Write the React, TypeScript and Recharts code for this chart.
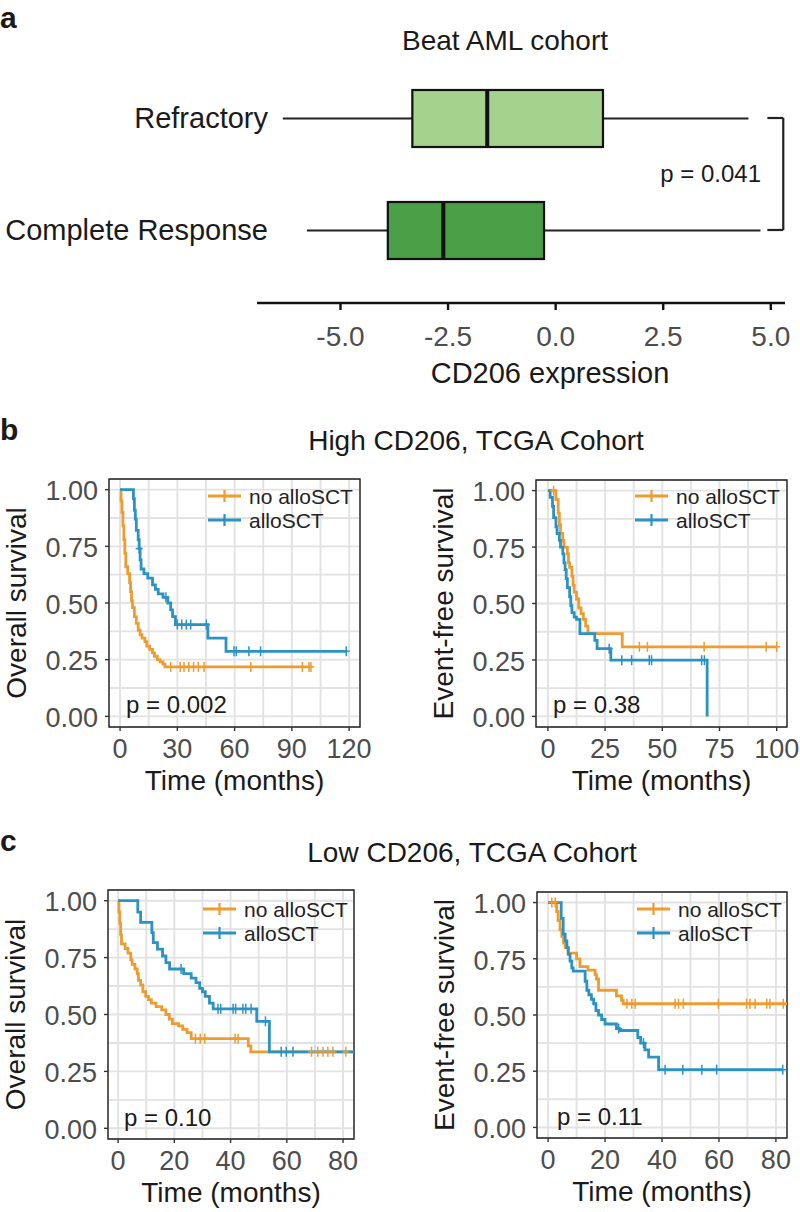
import React from 'react'
import {
    ComposedChart, Bar, Cell, Line, Scatter, XAxis, YAxis,
    CartesianGrid, ReferenceArea, ReferenceLine,
} from 'recharts'

const FONT = '"Liberation Sans", Arial, Helvetica, sans-serif'
const ORANGE = '#EE9B30'
const BLUE = '#2A93C4'
const INK = '#1a1a1a'
const TICK_INK = '#4d4d4d'

// ---- panel a: Beat AML boxplot ----
const groups = ['Refractory', 'Complete Response']
const whiskerLow = [-6.34, -5.78]
const quart1 = [-3.33, -3.90]
const medians = [-1.59, -2.61]
const quart3 = [1.10, -0.27]
const whiskerHigh = [4.48, 4.76]
const exprTicks = [-5, -2.5, 0, 2.5, 5]
const groupFill = ['#A5D38E', '#4A9E46']

// ---- panel b: high CD206 (time in months, survival fraction) ----
const highOsNo: [number, number][] = [
    [0, 1], [0.5, 0.95], [1, 0.9], [1.5, 0.84], [2, 0.78], [2.5, 0.72], [3, 0.66], [4, 0.63],
    [5, 0.59], [5.5, 0.55], [6, 0.51], [6.5, 0.48], [7.5, 0.44], [8.5, 0.41], [9.5, 0.38],
    [10.5, 0.36], [11.5, 0.345], [13, 0.33], [14, 0.31], [15.5, 0.295], [17, 0.28], [18, 0.265],
    [19.5, 0.25], [21, 0.24], [22.5, 0.23], [23.5, 0.218], [100, 0.218],
]
const highOsNoCens = [26.5, 31.5, 33.5, 36, 38.5, 41, 44, 68.5, 95.5, 99, 100]
const highOsSct: [number, number][] = [
    [0, 1], [7, 0.96], [7.5, 0.91], [8, 0.87], [8.5, 0.82], [9.5, 0.78], [10, 0.74], [10.5, 0.69],
    [11, 0.65], [12.5, 0.63], [14.5, 0.61], [17, 0.58], [18.5, 0.56], [20, 0.54], [22.5, 0.525],
    [25, 0.5], [26.5, 0.47], [27.5, 0.44], [29, 0.405], [46, 0.345], [55.5, 0.287], [118.5, 0.287],
]
const highOsSctCens = [10, 24, 30, 32.3, 34.7, 37, 45.2, 59.7, 60.9, 67.5, 73.6, 118.5]

const highEfsNo: [number, number][] = [
    [0, 1], [3.5, 0.96], [4.5, 0.9], [5, 0.85], [5.5, 0.81], [6.5, 0.78], [7, 0.75], [8.5, 0.72],
    [9, 0.68], [9.5, 0.66], [10.5, 0.62], [11, 0.58], [11.5, 0.55], [12.5, 0.52], [13.5, 0.48],
    [14.5, 0.455], [15.5, 0.43], [16.5, 0.4], [17.5, 0.367], [32.5, 0.308], [100, 0.308],
]
const highEfsNoCens = [2.5, 40, 43.5, 68.3, 95.4, 100]
const highEfsSct: [number, number][] = [
    [0, 1], [1, 0.97], [2, 0.93], [2.5, 0.88], [3.5, 0.84], [4, 0.81], [5, 0.78], [5.5, 0.75],
    [6.5, 0.72], [7, 0.68], [7.5, 0.65], [8, 0.61], [8.5, 0.57], [9.5, 0.53], [10, 0.49],
    [10.5, 0.46], [11.5, 0.44], [12.5, 0.43], [14, 0.367], [20.5, 0.337], [21.5, 0.3],
    [27.5, 0.249], [69.6, 0],
]
const highEfsSctCens = [26.8, 32.3, 36.6, 44.3, 45.3, 67.2, 68.4]

// ---- panel c: low CD206 ----
const lowOsNo: [number, number][] = [
    [0, 1], [0.3, 0.95], [0.6, 0.9], [0.9, 0.85], [1.2, 0.81], [2.5, 0.79], [3.5, 0.77],
    [4.5, 0.74], [5, 0.72], [6, 0.7], [6.8, 0.68], [7.2, 0.65], [8, 0.63], [8.8, 0.6],
    [9.8, 0.58], [10.8, 0.565], [11.8, 0.55], [13.5, 0.535], [15.5, 0.52], [17, 0.5],
    [18.2, 0.48], [19.3, 0.46], [21.5, 0.45], [23, 0.435], [24.5, 0.42], [26, 0.394],
    [46.3, 0.362], [47.2, 0.336], [84, 0.336],
]
const lowOsNoCens = [27.5, 29.2, 30.8, 41.6, 42.7, 68.8, 71, 72.9, 74.6, 76.4, 81]
const lowOsSct: [number, number][] = [
    [0, 1], [7, 0.95], [8, 0.905], [12, 0.86], [12.5, 0.816], [14, 0.787], [15.8, 0.757],
    [17, 0.728], [18.3, 0.7], [23.3, 0.68], [26, 0.66], [27.7, 0.64], [29, 0.615], [30, 0.6],
    [31, 0.58], [32.5, 0.55], [33.8, 0.525], [49.3, 0.47], [53.8, 0.336], [84, 0.336],
]
const lowOsSctCens = [22.4, 35.5, 36.5, 40.9, 41.8, 44.4, 45.4, 47.3, 52.4, 58, 59.8, 62.2]

const lowEfsNo: [number, number][] = [
    [0, 1], [3, 0.96], [3.5, 0.92], [4.2, 0.88], [4.8, 0.85], [5.4, 0.82], [6, 0.8], [7, 0.775],
    [10, 0.75], [11.2, 0.715], [14, 0.7], [16.5, 0.68], [17, 0.66], [17.7, 0.61], [24, 0.585],
    [25.8, 0.565], [26.4, 0.55], [84, 0.55],
]
const lowEfsNoCens = [1.3, 2.5, 27.7, 29.4, 30.6, 44.6, 45.8, 47.5, 59.8, 69.7, 70.9, 72.7, 76.8, 77.9, 82.6]
const lowEfsSct: [number, number][] = [
    [0, 1], [4.6, 0.93], [5.3, 0.86], [6, 0.83], [6.6, 0.8], [7.1, 0.77], [7.7, 0.74], [8.3, 0.71],
    [8.8, 0.695], [13, 0.65], [13.6, 0.61], [14.3, 0.59], [15.2, 0.57], [16, 0.55], [16.8, 0.52],
    [17.7, 0.5], [18.8, 0.48], [20, 0.46], [24, 0.44], [25, 0.431], [31.5, 0.4], [32.5, 0.375],
    [34, 0.345], [35.3, 0.313], [38.8, 0.257], [82.4, 0.257],
]
const lowEfsSctCens = [24.8, 33.5, 41.1, 47.3, 54, 59.2, 82.4]

const survTicks = [0, 0.125, 0.25, 0.375, 0.5, 0.625, 0.75, 0.875, 1]
const survMajor = [0, 0.25, 0.5, 0.75, 1]
const Y_DOMAIN: [number, number] = [-0.047, 1.047]

// survival level at a censoring time, read from the step list
const survAt = (steps: [number, number][], t: number) => {
    let s = steps[0][1]
    for (const [tt, ss] of steps) if (tt <= t) s = ss
    return s
}

type Curve = { steps: [number, number][]; cens: number[]; color: string }
type Box = { x: number; y: number; w: number; h: number }

const Plus = ({ cx, cy, color }: any) => (
    <g stroke={color} strokeWidth={1.5}>
        <line x1={cx} x2={cx} y1={cy - 5} y2={cy + 5} />
        <line x1={cx - 3.5} x2={cx + 3.5} y1={cy} y2={cy} />
    </g>
)

function KmPlot({ box, xDomain, xTicks, xMajor, yLabel, curves }:
    { box: Box; xDomain: [number, number]; xTicks: number[]; xMajor: number[]; yLabel: string; curves: Curve[] }) {
    const PL = 110, PT = 10
    const bottom = PT + box.h

    const XTick = (p: any) => {
        const v = p.payload.value
        if (!xMajor.includes(v)) return <g />
        return (
            <g>
                <line x1={p.x} x2={p.x} y1={bottom} y2={bottom + 4} stroke="#333" strokeWidth={1.4} />
                <text x={p.x} y={bottom + 31} textAnchor="middle" fontSize={27} fill={TICK_INK} fontFamily={FONT}>{v}</text>
            </g>
        )
    }
    const YTick = (p: any) => {
        const v = p.payload.value
        if (!survMajor.includes(v)) return <g />
        return (
            <g>
                <line x1={PL - 4} x2={PL} y1={p.y} y2={p.y} stroke="#333" strokeWidth={1.4} />
                <text x={PL - 11} y={p.y} dy="0.4em" textAnchor="end" fontSize={27} fill={TICK_INK} fontFamily={FONT}>{v.toFixed(2)}</text>
            </g>
        )
    }

    return (
        <div style={{ position: 'absolute', left: box.x - PL, top: box.y - PT }}>
            <ComposedChart width={box.w + PL + 12} height={box.h + PT + 72} margin={{ top: PT, right: 12, bottom: 0, left: 0 }}>
                <CartesianGrid stroke="#e2e2e2" strokeWidth={1.9} />
                <XAxis type="number" dataKey="t" domain={xDomain} ticks={xTicks} interval={0} allowDataOverflow
                    axisLine={false} tickLine={false} tick={XTick} height={72}
                    label={() => (
                        <text x={PL + box.w / 2} y={bottom + 63} textAnchor="middle" fontSize={28} fill={INK} fontFamily={FONT}>
                            Time (months)
                        </text>
                    )} />
                <YAxis type="number" dataKey="s" domain={Y_DOMAIN} ticks={survTicks} interval={0} allowDataOverflow
                    axisLine={false} tickLine={false} tick={YTick} width={PL}
                    label={() => (
                        <text x={PL - 83} y={PT + box.h / 2} textAnchor="middle" fontSize={28} fill={INK} fontFamily={FONT}
                            transform={`rotate(-90 ${PL - 83} ${PT + box.h / 2})`}>
                            {yLabel}
                        </text>
                    )} />
                <ReferenceArea x1={xDomain[0]} x2={xDomain[1]} y1={Y_DOMAIN[0]} y2={Y_DOMAIN[1]}
                    fill="none" fillOpacity={0} stroke="#222" strokeWidth={1.4} />
                {curves.map((c, i) => (
                    <Line key={'l' + i} data={c.steps.map(([t, s]) => ({ t, s }))} dataKey="s" type="stepAfter"
                        stroke={c.color} strokeWidth={2.8} dot={false} activeDot={false} isAnimationActive={false} />
                ))}
                {curves.map((c, i) => (
                    <Scatter key={'c' + i} data={c.cens.map(t => ({ t, s: survAt(c.steps, t) }))}
                        shape={(p: any) => <Plus cx={p.cx} cy={p.cy} color={c.color} />} isAnimationActive={false} />
                ))}
            </ComposedChart>
        </div>
    )
}

const Legend2 = ({ x, y }: { x: number; y: number }) => (
    <g fontFamily={FONT} fontSize={21} fill="#222">
        {[{ label: 'no alloSCT', color: ORANGE, dy: 0 }, { label: 'alloSCT', color: BLUE, dy: 24 }].map(it => (
            <g key={it.label}>
                <line x1={x} x2={x + 33} y1={y + it.dy} y2={y + it.dy} stroke={it.color} strokeWidth={3.2} />
                <line x1={x + 16.5} x2={x + 16.5} y1={y + it.dy - 6} y2={y + it.dy + 6} stroke={it.color} strokeWidth={2.2} />
                <text x={x + 41} y={y + it.dy} dy="0.36em">{it.label}</text>
            </g>
        ))}
    </g>
)

const BoxShape = (props: any) => {
    const { x, y, width, height, payload, fill } = props
    const k = width / (payload.q3 - payload.q1)
    const px = (v: number) => x + (v - payload.q1) * k
    const cy = y + height / 2
    return (
        <g>
            <line x1={px(payload.lo)} x2={x} y1={cy} y2={cy} stroke="#222" strokeWidth={2.2} />
            <line x1={x + width} x2={px(payload.hi)} y1={cy} y2={cy} stroke="#222" strokeWidth={2.2} />
            <rect x={x} y={y} width={width} height={height} fill={fill} stroke="#111" strokeWidth={2.2} />
            <line x1={px(payload.med)} x2={px(payload.med)} y1={y} y2={y + height} stroke="#111" strokeWidth={4} />
        </g>
    )
}

export default function App() {
    const boxRows = groups.map((g, i) => ({
        group: g, range: [quart1[i], quart3[i]],
        lo: whiskerLow[i], q1: quart1[i], med: medians[i], q3: quart3[i], hi: whiskerHigh[i],
    }))

    return (
        <div style={{ position: 'absolute', left: 0, top: 0, width: 800, height: 1212, background: '#fff', fontFamily: FONT }}>
            {/* panel a */}
            <div style={{ position: 'absolute', left: 0, top: 0 }}>
                <ComposedChart layout="vertical" width={800} height={400} data={boxRows}
                    margin={{ top: 62, right: 15, bottom: 0, left: 0 }}>
                    <XAxis type="number" domain={[-6.94, 5.33]} ticks={exprTicks} interval={0} allowDataOverflow
                        tickFormatter={(v: number) => v.toFixed(1)} height={97} tickSize={7} tickMargin={16}
                        axisLine={{ stroke: '#111', strokeWidth: 2.4 }} tickLine={{ stroke: '#111', strokeWidth: 2.4 }}
                        tick={{ fontSize: 28, fill: TICK_INK, fontFamily: FONT }}
                        label={() => (
                            <text x={550} y={383} textAnchor="middle" fontSize={29} fill={INK} fontFamily={FONT}>CD206 expression</text>
                        )} />
                    <YAxis type="category" dataKey="group" width={257} padding={{ top: 0, bottom: 17 }}
                        axisLine={false} tickLine={false} interval={0}
                        tick={(p: any) => (
                            <text x={268} y={p.y} dy="0.36em" textAnchor="end" fontSize={29} fill={INK} fontFamily={FONT}>
                                {p.payload.value}
                            </text>
                        )} />
                    <Bar dataKey="range" barSize={57} shape={BoxShape} isAnimationActive={false}>
                        {boxRows.map((_, i) => <Cell key={i} fill={groupFill[i]} />)}
                    </Bar>
                    <ReferenceLine segment={[{ x: 4.92, y: groups[0] }, { x: 5.29, y: groups[0] }]} stroke="#222" strokeWidth={2.2} ifOverflow="visible" />
                    <ReferenceLine segment={[{ x: 5.29, y: groups[0] }, { x: 5.29, y: groups[1] }]} stroke="#222" strokeWidth={2.2} ifOverflow="visible" />
                    <ReferenceLine segment={[{ x: 4.92, y: groups[1] }, { x: 5.29, y: groups[1] }]} stroke="#222" strokeWidth={2.2} ifOverflow="visible" />
                </ComposedChart>
            </div>

            <KmPlot box={{ x: 109, y: 479, w: 251, h: 248 }} xDomain={[-5.8, 125.7]}
                xTicks={[0, 15, 30, 45, 60, 75, 90, 105, 120]} xMajor={[0, 30, 60, 90, 120]} yLabel="Overall survival"
                curves={[{ steps: highOsNo, cens: highOsNoCens, color: ORANGE }, { steps: highOsSct, cens: highOsSctCens, color: BLUE }]} />
            <KmPlot box={{ x: 536, y: 480, w: 251, h: 247 }} xDomain={[-5.2, 104.5]}
                xTicks={[0, 12.5, 25, 37.5, 50, 62.5, 75, 87.5, 100]} xMajor={[0, 25, 50, 75, 100]} yLabel="Event-free survival"
                curves={[{ steps: highEfsNo, cens: highEfsNoCens, color: ORANGE }, { steps: highEfsSct, cens: highEfsSctCens, color: BLUE }]} />
            <KmPlot box={{ x: 108, y: 890, w: 246, h: 249 }} xDomain={[-3.6, 83.9]}
                xTicks={[0, 10, 20, 30, 40, 50, 60, 70, 80]} xMajor={[0, 20, 40, 60, 80]} yLabel="Overall survival"
                curves={[{ steps: lowOsNo, cens: lowOsNoCens, color: ORANGE }, { steps: lowOsSct, cens: lowOsSctCens, color: BLUE }]} />
            <KmPlot box={{ x: 537, y: 892, w: 250, h: 246 }} xDomain={[-3.9, 83.9]}
                xTicks={[0, 10, 20, 30, 40, 50, 60, 70, 80]} xMajor={[0, 20, 40, 60, 80]} yLabel="Event-free survival"
                curves={[{ steps: lowEfsNo, cens: lowEfsNoCens, color: ORANGE }, { steps: lowEfsSct, cens: lowEfsSctCens, color: BLUE }]} />

            {/* titles, panel letters, p-values, legends */}
            <svg width={800} height={1212} style={{ position: 'absolute', left: 0, top: 0, pointerEvents: 'none' }}>
                <g fontFamily={FONT} fill={INK}>
                    <text x={0} y={28} fontSize={30} fontWeight="bold">a</text>
                    <text x={0} y={440} fontSize={30} fontWeight="bold">b</text>
                    <text x={0} y={851} fontSize={30} fontWeight="bold">c</text>
                    <text x={505} y={50} fontSize={28} textAnchor="middle">Beat AML cohort</text>
                    <text x={476} y={450} fontSize={28} textAnchor="middle">High CD206, TCGA Cohort</text>
                    <text x={472} y={862} fontSize={28} textAnchor="middle">Low CD206, TCGA Cohort</text>
                    <text x={761} y={182} fontSize={24} textAnchor="end">p = 0.041</text>
                    <text x={126} y={713} fontSize={24}>p = 0.002</text>
                    <text x={553} y={713} fontSize={24}>p = 0.38</text>
                    <text x={124} y={1126} fontSize={24}>p = 0.10</text>
                    <text x={557} y={1125} fontSize={24}>p = 0.11</text>
                </g>
                <Legend2 x={208} y={496} />
                <Legend2 x={635} y={496} />
                <Legend2 x={203} y={909} />
                <Legend2 x={637} y={909} />
            </svg>
        </div>
    )
}
